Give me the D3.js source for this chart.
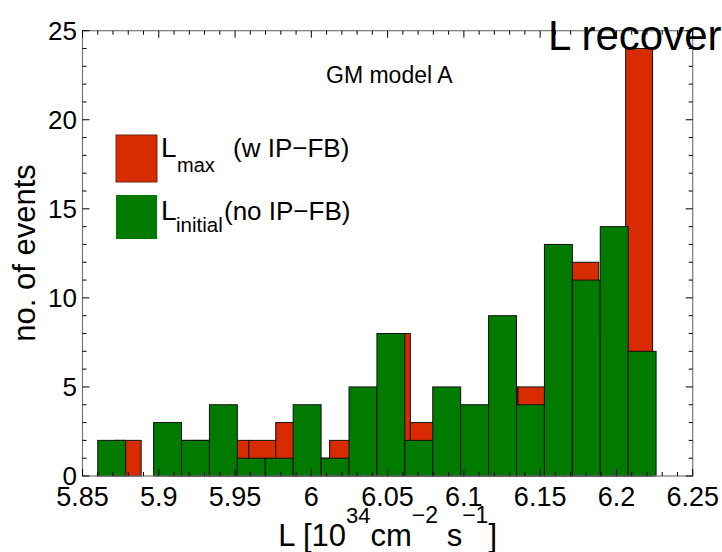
<!DOCTYPE html>
<html>
<head>
<meta charset="utf-8">
<script src="https://cdn.jsdelivr.net/npm/d3@7"></script>
<style>
  body { margin: 0; background: #fff; }
  text { font-family: "Liberation Sans", Arial, sans-serif; fill: #000; }
</style>
</head>
<body>
<script>
// histogram data
const greenRange = [5.8600, 6.2260];   // L initial, 20 equal bins
const greenCounts = [2, 0, 3, 2, 4, 1, 1, 4, 1, 5, 8, 2, 5, 4, 9, 4, 13, 11, 14, 7];
const redRange = [5.8708, 6.2237];     // L max, 20 equal bins
const redCounts = [2, 0, 2, 2, 2, 2, 3, 1, 2, 4, 8, 3, 3, 3, 5, 5, 9, 12, 8, 24];
const xTickLabels = ["5.85", "5.9", "5.95", "6", "6.05", "6.1", "6.15", "6.2", "6.25"];
const yTickLabels = ["0", "5", "10", "15", "20", "25"];

const w = 722;
const h = 552;
const plotL = 82.5, plotR = 692.7, plotT = 30.7, plotB = 476;
const redColor = "#d92b00";
const greenColor = "#007b00";

const svg = d3.select("body")
  .append("svg")
  .attr("width", w)
  .attr("height", h);

svg.append("rect").attr("width", w).attr("height", h).attr("fill", "#fff");

const xScale = d3.scaleLinear().domain([5.85, 6.25]).range([plotL, plotR]);
const yScale = d3.scaleLinear().domain([0, 25]).range([plotB, plotT]);

function toBins(range, counts) {
  const step = (range[1] - range[0]) / counts.length;
  return counts.map((c, i) => ({ lo: range[0] + i * step, hi: range[0] + (i + 1) * step, n: c }));
}

function drawBars(bins, color) {
  svg.append("g")
    .selectAll("rect")
    .data(bins.filter(d => d.n > 0))
    .enter()
    .append("rect")
    .attr("x", d => xScale(d.lo))
    .attr("width", d => xScale(d.hi) - xScale(d.lo))
    .attr("y", d => yScale(d.n))
    .attr("height", d => yScale(0) - yScale(d.n))
    .attr("fill", color)
    .attr("stroke", "#111")
    .attr("stroke-width", 1);
}

// red behind, green in front
drawBars(toBins(redRange, redCounts), redColor);
drawBars(toBins(greenRange, greenCounts), greenColor);

// frame
svg.append("rect")
  .attr("x", plotL).attr("y", plotT)
  .attr("width", plotR - plotL).attr("height", plotB - plotT)
  .attr("fill", "none").attr("stroke", "#777").attr("stroke-width", 1.2);

// ticks on all four sides, pointing inward
const xMinor = d3.range(0, 41).map(i => 5.85 + i * 0.01);
const yMinor = d3.range(0, 26);
const ticks = svg.append("g").attr("stroke", "#000").attr("stroke-width", 1);
xMinor.forEach((v, i) => {
  const len = i % 5 === 0 ? 7 : 4;
  const x = xScale(v);
  ticks.append("line").attr("x1", x).attr("x2", x).attr("y1", plotB).attr("y2", plotB - len);
  ticks.append("line").attr("x1", x).attr("x2", x).attr("y1", plotT).attr("y2", plotT + len);
});
yMinor.forEach(v => {
  const len = v % 5 === 0 ? 7 : 4;
  const y = yScale(v);
  ticks.append("line").attr("x1", plotL).attr("x2", plotL + len).attr("y1", y).attr("y2", y);
  ticks.append("line").attr("x1", plotR).attr("x2", plotR - len).attr("y1", y).attr("y2", y);
});

// tick labels
svg.append("g")
  .selectAll("text")
  .data(xTickLabels)
  .enter()
  .append("text")
  .attr("x", d => xScale(+d))
  .attr("y", 506)
  .attr("text-anchor", "middle")
  .attr("font-size", 27)
  .text(d => d);

svg.append("g")
  .selectAll("text")
  .data(yTickLabels)
  .enter()
  .append("text")
  .attr("x", 77)
  .attr("y", d => yScale(+d))
  .attr("dy", "0.36em")
  .attr("text-anchor", "end")
  .attr("font-size", 26)
  .text(d => d);

// axis titles
svg.append("text")
  .attr("transform", "translate(35,253) rotate(-90)")
  .attr("text-anchor", "middle")
  .attr("font-size", 31)
  .text("no. of events");

const xTitle = svg.append("text")
  .attr("x", (plotL + plotR) / 2)
  .attr("y", 546)
  .attr("text-anchor", "middle")
  .attr("font-size", 31);
xTitle.append("tspan").text("L [10");
xTitle.append("tspan").attr("font-size", 22).attr("dy", -23).text("34");
xTitle.append("tspan").attr("dy", 23).text("cm");
xTitle.append("tspan").attr("font-size", 23).attr("dy", -23).text("\u22122");
xTitle.append("tspan").attr("dy", 23).text(" s");
xTitle.append("tspan").attr("font-size", 23).attr("dy", -23).text("\u22121");
xTitle.append("tspan").attr("dy", 23).text("]");

// annotations
svg.append("text")
  .attr("x", 326).attr("y", 83)
  .attr("font-size", 23)
  .text("GM model A");

svg.append("text")
  .attr("x", 548).attr("y", 50)
  .attr("font-size", 42)
  .text("L recover");

// legend
const legend = svg.append("g");
legend.append("rect")
  .attr("x", 116).attr("y", 135).attr("width", 41).attr("height", 47)
  .attr("fill", redColor).attr("stroke", "#6b2a18").attr("stroke-width", 1);
legend.append("rect")
  .attr("x", 116).attr("y", 195).attr("width", 41).attr("height", 44)
  .attr("fill", greenColor);

legend.append("text").attr("x", 161).attr("y", 157).attr("font-size", 28).text("L");
legend.append("text").attr("x", 177).attr("y", 172).attr("font-size", 20).text("max");
legend.append("text").attr("x", 233).attr("y", 157).attr("font-size", 26).text("(w IP\u2212FB)");

legend.append("text").attr("x", 161).attr("y", 220).attr("font-size", 28).text("L");
legend.append("text").attr("x", 176).attr("y", 232).attr("font-size", 20.5).text("initial");
legend.append("text").attr("x", 224).attr("y", 220).attr("font-size", 26).text("(no IP\u2212FB)");
</script>
</body>
</html>
